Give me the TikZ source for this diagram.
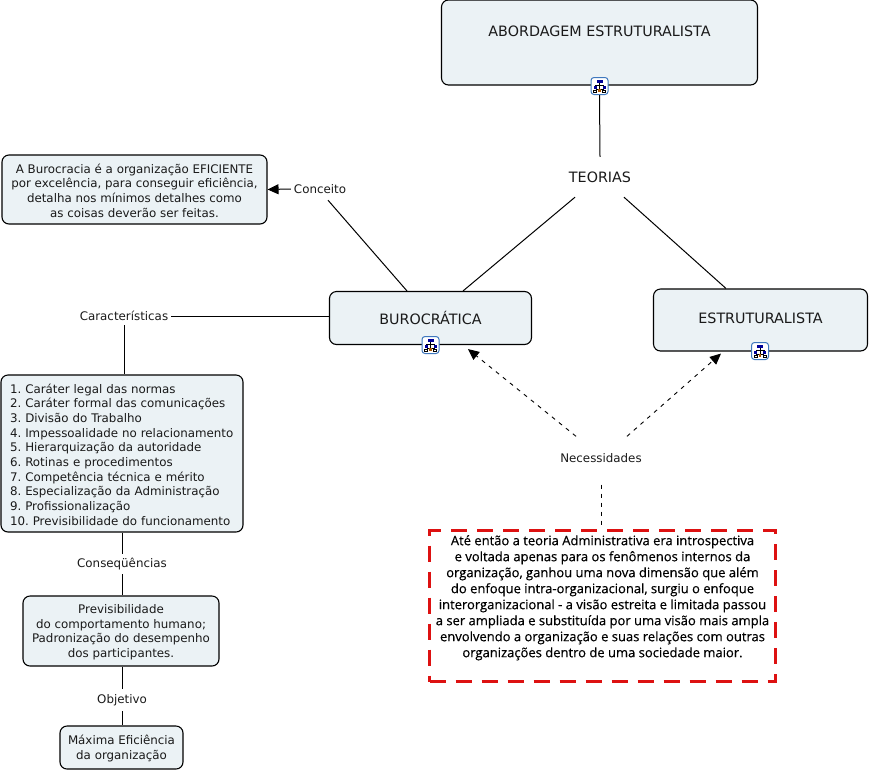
\documentclass[tikz,border=0pt]{standalone}
\usepackage{fontspec}
\setmainfont{DejaVu Sans}
\newfontfamily\redfont{Open Sans}[FakeBold=0.5]
\usetikzlibrary{arrows.meta}
\definecolor{boxfill}{HTML}{EBF2F5}
\definecolor{boxred}{HTML}{DD1111}
\definecolor{iconblue}{HTML}{3F78BE}
\definecolor{txt}{HTML}{1A1A1A}
\newcommand\firststrut{\rule{0pt}{11.2pt}}
\tikzset{
  x=1pt,y=-1pt,
  conceptbox/.style={draw=black,line width=1.1pt,fill=boxfill,rounded corners=7pt,inner sep=0pt,align=center,text=txt},
  smalltext/.style={font=\frenchspacing\fontsize{11.85}{14.67}\selectfont},
  bigtext/.style={font=\fontsize{14.3}{16}\selectfont},
  linklabel/.style={inner sep=0pt,align=center,text=txt,font=\fontsize{11.85}{14}\selectfont},
  conn/.style={draw=black,line width=1pt},
  dashconn/.style={draw=black,line width=0.9pt,dash pattern=on 4pt off 5pt},
  headed/.style={-{Triangle[length=11pt,width=10pt]}},
  treeicon/.pic={
    \node[draw=iconblue,line width=1pt,fill=white,rounded corners=3pt,minimum size=17pt,inner sep=0pt] (-box) at (0,0) {};
    \draw[line width=0.6pt,black] (0,-3) -- (0,3) (-4,-1) -- (4,-1) (-4,-1) -- (-4,1) (4,-1) -- (4,1) (-4,3.5) -- (4,3.5);
    \fill[blue!60!black] (-3,-6) rectangle (3,-3);
    \fill[blue!60!black] (-6,0) rectangle (-3,3);
    \fill[blue!60!black] (3,0) rectangle (6,3);
    \draw[line width=0.6pt,black,fill=white] (-6,4) rectangle (-3,6.2) (3,4) rectangle (6,6.2);
    \fill[orange!70!black] (-1.2,3) rectangle (1.2,5.5);
  }
}
\begin{document}
\begin{tikzpicture}
\useasboundingbox (0,0) rectangle (869,772);
% boxes
\node[conceptbox,bigtext,minimum width=316pt,minimum height=85pt] (abord) at (599.5,42.5) {\raisebox{6.5pt}[0pt][0pt]{ABORDAGEM ESTRUTURALISTA}};
\node[conceptbox,smalltext,minimum width=265pt,minimum height=69pt] (conceito) at (134.5,189.5) {\firststrut A Burocracia é a organização EFICIENTE\\por excelência, para conseguir eficiência,\\detalha nos mínimos detalhes como\\as coisas deverão ser feitas.};
\node[conceptbox,bigtext,minimum width=202pt,minimum height=53pt] (buro) at (430.5,318) {BUROCRÁTICA};
\node[conceptbox,bigtext,minimum width=214pt,minimum height=62pt] (estr) at (760.5,320) {\raisebox{-3.5pt}[0pt][0pt]{ESTRUTURALISTA}};
\node[conceptbox,smalltext,minimum width=242pt,minimum height=157pt,align=left,text width=224pt] (lista) at (122,453.5) {\firststrut 1. Caráter legal das normas\\2. Caráter formal das comunicações\\3. Divisão do Trabalho\\4. Impessoalidade no relacionamento\\5. Hierarquização da autoridade\\6. Rotinas e procedimentos\\7. Competência técnica e mérito\\8. Especialização da Administração\\9. Profissionalização\\10. Previsibilidade do funcionamento};
\node[conceptbox,smalltext,minimum width=196pt,minimum height=70pt] (prev) at (121,631) {\firststrut Previsibilidade\\do comportamento humano;\\Padronização do desempenho\\dos participantes.};
\node[conceptbox,smalltext,minimum width=123pt,minimum height=43pt] (max) at (121.5,747.5) {\firststrut Máxima Eficiência\\da organização};
\node[draw=boxred,line width=3pt,dash pattern=on 16pt off 10pt,inner sep=0pt,minimum width=346pt,minimum height=151pt,align=center,font=\redfont\fontsize{13}{16}\selectfont] (texto) at (602.5,606) {\raisebox{5.25pt}[0pt][0pt]{\parbox{344pt}{\centering Até então a teoria Administrativa era introspectiva\\e voltada apenas para os fenômenos internos da\\organização, ganhou uma nova dimensão que além\\do enfoque intra-organizacional, surgiu o enfoque\\interorganizacional - a visão estreita e limitada passou\\a ser ampliada e substituída por uma visão mais ampla\\envolvendo a organização e suas relações com outras\\organizações dentro de uma sociedade maior.}}};
% link labels
\node[linklabel,font=\fontsize{14.3}{16}\selectfont,minimum width=70pt,minimum height=40pt] (teorias) at (600,177) {TEORIAS};
\node[linklabel,minimum width=58pt,minimum height=22pt] (lconceito) at (320,189) {Conceito};
\node[linklabel,minimum width=94pt,minimum height=18pt] (lcarac) at (124,316) {Características};
\node[linklabel,minimum width=94pt,minimum height=20pt] (lconseq) at (122,564) {Conseqüências};
\node[linklabel,minimum width=56pt,minimum height=22pt] (lobj) at (122,700) {Objetivo};
\node[linklabel,minimum width=84pt,minimum height=44pt] (lnec) at (601,458.5) {Necessidades};
% icons
\pic (i1) at (599.5,86) {treeicon};
\pic (i2) at (430.5,345) {treeicon};
\pic (i3) at (760,351) {treeicon};
% connectors
\draw[conn] (i1-box.south) -- (teorias.north);
\draw[conn] ([xshift=-25pt]teorias.south) -- ([xshift=32.5pt]buro.north);
\draw[conn] ([xshift=24pt]teorias.south) -- ([xshift=-34.5pt]estr.north);
\draw[conn,headed] (lconceito.west) -- (conceito.east);
\draw[conn] ([xshift=8pt]lconceito.south) -- ([xshift=-23.5pt]buro.north);
\draw[conn] (lcarac.east) -- ([yshift=2pt]buro.west);
\draw[conn] (lcarac.south) -- ([xshift=2pt]lista.north);
\draw[conn] (lista.south) -- (lconseq.north);
\draw[conn] (lconseq.south) -- ([xshift=1pt]prev.north);
\draw[conn] ([xshift=1pt]prev.south) -- (lobj.north);
\draw[conn] (lobj.south) -- ([xshift=0.5pt]max.north);
\draw[dashconn,headed] ([xshift=-25pt]lnec.north) -- ([xshift=37.5pt,yshift=-4pt]buro.south);
\draw[dashconn,headed] ([xshift=26pt]lnec.north) -- ([xshift=-39.5pt,yshift=-2pt]estr.south);
\draw[dashconn] ([yshift=-4pt]lnec.south) -- ([xshift=-1.5pt]texto.north);
\end{tikzpicture}
\end{document}
